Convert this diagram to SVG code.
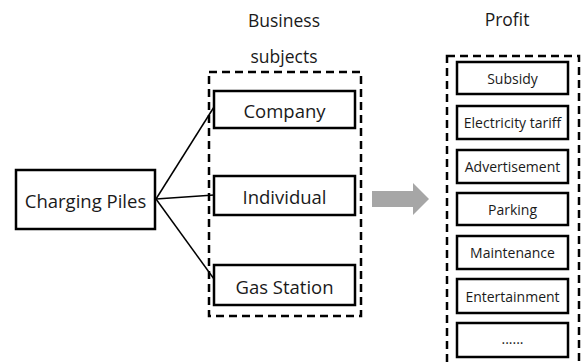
<svg xmlns="http://www.w3.org/2000/svg" width="581" height="363" viewBox="0 0 581 363">
<style>
text{font-family:"Open Sans","Noto Sans","DejaVu Sans",sans-serif;fill:#1a1a1a;text-anchor:middle;dominant-baseline:central}
.node{fill:#fff;stroke:#000;stroke-width:2.5}
.dash{fill:none;stroke:#000;stroke-width:2.5;stroke-dasharray:8,5}
.big{font-size:18.5px}
.title{font-size:17.5px}
.sm{font-size:14px}
.conn{stroke:#000;stroke-width:1.5;fill:none}
</style>
<rect width="581" height="363" fill="#fff"/>
<g id="titles">
<text class="title" x="284" y="20">Business</text>
<text class="title" x="284" y="56">subjects</text>
<text class="title" x="507" y="19">Profit</text>
</g>
<g id="subjects-group"><rect class="dash" x="209" y="72" width="152" height="244"/></g>
<g id="profit-group"><rect class="dash" x="447" y="56" width="132" height="320"/></g>
<g id="connectors">
<line class="conn" x1="156" y1="199" x2="214" y2="107"/>
<line class="conn" x1="156" y1="199" x2="214" y2="195"/>
<line class="conn" x1="156" y1="199" x2="214" y2="279"/>
<polygon points="372,191 413,191 413,183 429,199 413,215 413,207 372,207" fill="#a6a6a6"/>
</g>
<g id="charging-piles"><rect class="node" x="16" y="170" width="139" height="59"/><text class="big" x="85.5" y="200">Charging Piles</text></g>
<g id="company"><rect class="node" x="214" y="91" width="141" height="37"/><text class="big" x="284.5" y="110">Company</text></g>
<g id="individual"><rect class="node" x="214" y="176" width="141" height="39"/><text class="big" x="284.5" y="196">Individual</text></g>
<g id="gas-station"><rect class="node" x="214" y="265" width="141" height="40"/><text class="big" x="284.5" y="286">Gas Station</text></g>
<g id="subsidy"><rect class="node" x="457" y="62" width="111" height="32"/><text class="sm" x="512.5" y="78">Subsidy</text></g>
<g id="electricity"><rect class="node" x="457" y="106" width="111" height="33"/><text class="sm" x="512.5" y="122.5">Electricity tariff</text></g>
<g id="advertisement"><rect class="node" x="457" y="150" width="111" height="33"/><text class="sm" x="512.5" y="166.5">Advertisement</text></g>
<g id="parking"><rect class="node" x="457" y="193" width="111" height="32"/><text class="sm" x="512.5" y="209">Parking</text></g>
<g id="maintenance"><rect class="node" x="457" y="236" width="111" height="33"/><text class="sm" x="512.5" y="252.5">Maintenance</text></g>
<g id="entertainment"><rect class="node" x="457" y="279" width="111" height="34"/><text class="sm" x="512.5" y="296">Entertainment</text></g>
<g id="more"><rect class="node" x="457" y="323" width="111" height="34"/><text class="sm" x="512.5" y="338">......</text></g>
</svg>
